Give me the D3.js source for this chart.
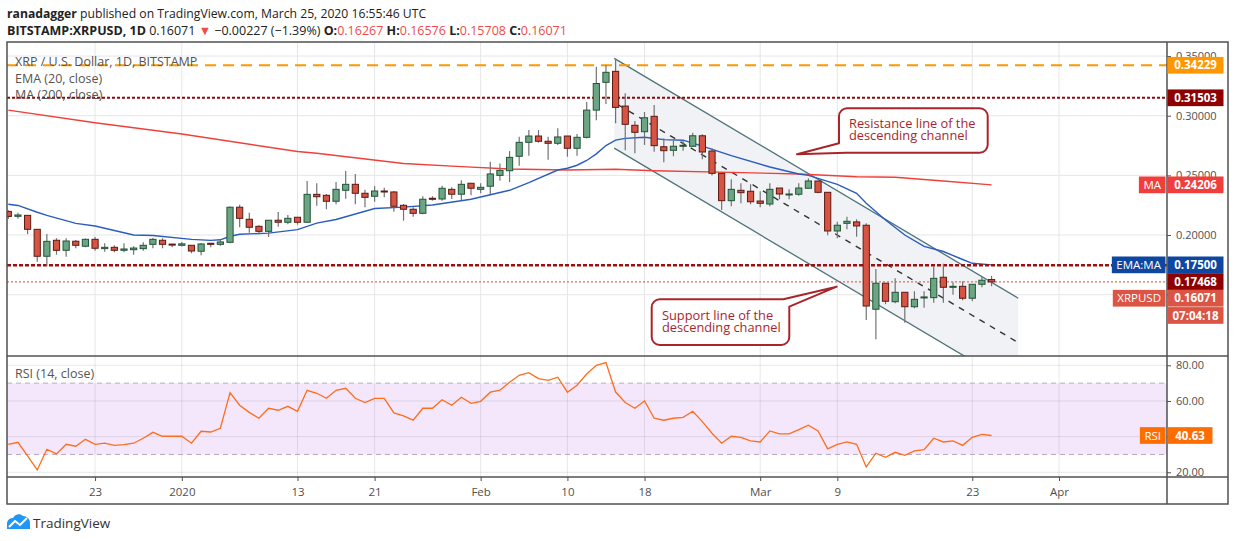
<!DOCTYPE html>
<html><head><meta charset="utf-8">
<script src="https://cdn.jsdelivr.net/npm/d3@7"></script>
<style>
body{margin:0;background:#fff;}
svg{display:block;font-family:"Open Sans",sans-serif;}
</style>
</head><body>
<svg id="chart" width="1234" height="541"></svg>
<script>
// ---------------- DATA ----------------
const firstDay = "2019-12-14";
const opens  = [.2198,.2157,.2165,.2048,.1822,.1956,.1872,.1948,.1906,.1964,.1886,.1897,.1872,.1877,.1886,.1922,.1956,.1924,.1914,.1914,.1864,.1931,.1922,.1939,.2233,.2132,.2073,.2031,.2124,.2107,.2149,.2107,.2341,.2333,.2283,.2375,.2425,.2350,.2325,.2369,.2361,.2249,.2216,.2182,.2308,.2302,.2383,.2342,.2434,.2383,.2409,.2500,.2539,.2660,.2777,.2830,.2786,.2769,.2830,.2727,.2819,.3047,.3280,.3372,.3081,.2920,.2866,.2995,.2740,.2710,.2744,.2744,.2832,.2704,.2517,.2288,.2375,.2367,.2285,.2260,.2394,.2338,.2342,.2392,.2453,.2358,.2034,.2098,.2110,.2082,.1378,.1596,.1441,.1520,.1399,.1475,.1475,.1646,.1562,.1570,.1470,.1587,.16267];
const highs  = [.2207,.2187,.2168,.2050,.2009,.1973,.1973,.1958,.1970,.1984,.1931,.1914,.1931,.1905,.1940,.1975,.1973,.1926,.1942,.1914,.1933,.1931,.1962,.2239,.2254,.2187,.2082,.2124,.2193,.2168,.2149,.2453,.2434,.2344,.2445,.2537,.2512,.2380,.2409,.2396,.2369,.2260,.2233,.2325,.2325,.2413,.2400,.2459,.2434,.2434,.2614,.2600,.2704,.2824,.2880,.2880,.2824,.2894,.2830,.2846,.3116,.3411,.3425,.3473,.3188,.2956,.3031,.3090,.2811,.2794,.2794,.2857,.2844,.2727,.2522,.2467,.2434,.2426,.2367,.2434,.2394,.2383,.2434,.2475,.2453,.2358,.2112,.2154,.2132,.2098,.1715,.1596,.1637,.1520,.1529,.1529,.1735,.1760,.1604,.1613,.1587,.1650,.16576];
const lows   = [.2134,.2137,.2007,.1777,.1740,.1835,.1818,.1889,.1898,.1869,.1860,.1855,.1855,.1835,.1868,.1889,.1889,.1897,.1903,.1847,.1830,.1897,.1911,.1931,.2065,.2020,.2007,.1984,.2070,.2090,.2087,.2107,.2246,.2216,.2258,.2304,.2258,.2233,.2279,.2316,.2195,.2120,.2154,.2174,.2288,.2288,.2302,.2291,.2333,.2350,.2344,.2455,.2444,.2581,.2665,.2774,.2631,.2755,.2657,.2665,.2810,.2963,.3098,.2936,.2711,.2685,.2755,.2698,.2610,.2660,.2707,.2740,.2635,.2500,.2210,.2241,.2266,.2258,.2233,.2241,.2300,.2300,.2330,.2392,.2350,.1999,.1973,.2048,.1986,.1288,.1126,.1420,.1428,.1265,.1386,.1390,.1433,.1433,.1499,.1453,.1445,.1562,.15708];
const closes = [.2156,.2168,.2048,.1822,.1947,.1872,.1950,.1914,.1964,.1889,.1897,.1872,.1883,.1891,.1914,.1964,.1922,.1919,.1926,.1866,.1925,.1922,.1942,.2233,.2140,.2065,.2031,.2124,.2107,.2140,.2107,.2341,.2321,.2283,.2383,.2425,.2350,.2316,.2369,.2361,.2241,.2216,.2182,.2300,.2300,.2392,.2342,.2425,.2392,.2400,.2512,.2542,.2651,.2777,.2830,.2786,.2769,.2822,.2727,.2819,.3047,.3270,.3364,.3070,.2928,.2861,.2983,.2749,.2707,.2744,.2752,.2832,.2696,.2517,.2288,.2383,.2355,.2279,.2266,.2383,.2344,.2344,.2394,.2453,.2358,.2034,.2082,.2115,.2076,.1405,.1596,.1445,.1520,.1399,.1461,.1481,.1637,.1562,.1570,.1470,.1587,.1621,.16071];
const rsiValues = [35.7,36.8,29.2,21.3,32.9,30.3,35.7,34.6,38.5,35.7,36.3,35.1,35.5,36.3,39.1,42.4,40.2,40.2,40.2,36.3,43.0,42.6,44.7,64.7,57.6,53.6,50.3,55.9,54.8,57.0,54.2,66.0,64.3,61.5,66.0,67.1,61.5,59.1,61.5,61.5,53.3,51.6,49.2,55.9,55.9,60.7,57.6,62.1,58.7,59.8,64.9,66.0,70.5,74.4,75.9,72.5,71.6,73.3,64.9,68.8,75.1,80.0,81.5,65.0,59.1,55.9,60.0,50.3,49.2,50.3,50.8,54.2,48.4,41.9,36.3,40.2,39.6,37.6,37.0,43.2,41.5,41.5,43.9,46.4,43.2,33.1,35.7,37.0,35.7,23.0,30.7,28.4,31.2,29.5,32.0,32.7,39.1,37.0,37.6,35.1,39.6,41.3,40.63];
// EMA(20): [day index, value]
const emaIdx = [0,1,3,4,7,9,13,15,19,21,22,23,24,27,30,32,34,38,41,44,48,52,54,57,58,59,60,61,62,63,64,66,68,70,72,75,79,82,83,86,88,89,91,93,95,97,99,100,102];
const emaVal = [.2258,.2248,.2191,.2165,.2098,.2076,.2000,.1996,.1964,.1955,.1960,.1990,.2006,.2016,.2045,.2100,.2130,.2222,.2234,.2252,.2300,.2375,.2440,.2545,.2560,.2585,.2625,.2680,.2750,.2795,.2810,.2819,.2800,.2795,.2745,.2665,.2570,.2512,.2500,.2425,.2350,.2266,.2126,.2000,.1905,.1862,.1795,.1763,.1750];
// MA(200)
const maIdx = [0,9,18,30,32,41,47,52,58,63,67,75,82,88,92,97,102];
const maVal = [.3047,.2941,.2847,.2700,.2685,.2600,.2573,.2553,.2545,.2551,.2539,.2525,.2512,.2489,.2484,.2453,.24206];
// drawn horizontal levels
const levelValues = [0.34229, 0.31503, 0.17468];
// descending channel: [day index, price]
const channelUpper = [[62.86,.3481],[104.77,.1470]];
const channelLower = [[62.86,.2728],[104.77,.0717]];
const channelMid   = [[63.3,.3090],[104.6,.1106]];
const calloutTexts = [["Resistance line of the","descending channel"],["Support line of the","descending channel"]];
const priceTicks = [0.35,0.30,0.25,0.20,0.15];
const priceTickLabels = ["0.35000","0.30000","0.25000","0.20000",""];
const rsiTicks = [80,60,40,20];
const rsiTickLabels = ["80.00","60.00","","20.00"];
const timeTickDates = ["2019-12-23","2020-01-01","2020-01-13","2020-01-21","2020-02-01","2020-02-10","2020-02-18","2020-03-01","2020-03-09","2020-03-23","2020-04-01"];
const timeTickLabels = ["23","2020","13","21","Feb","10","18","Mar","9","23","Apr"];

// ---------------- LAYOUT ----------------
const L=7, R=1167, OR=1228, mainTop=42, mainBot=356, rsiBot=477, axBot=504;
const DAY=864e5;
const t0 = new Date(firstDay+"T00:00:00Z").getTime();
const dateOf = i => new Date(t0 + i*DAY);
const svg = d3.select("#chart");

const x = d3.scaleUtc().domain([dateOf(-0.135), dateOf(120.2)]).range([L,R]);
const y = d3.scaleLinear().domain([0.0986,0.3618]).range([mainBot,mainTop]);
const yr = d3.scaleLinear().domain([17.36,85.21]).range([rsiBot,mainBot]);

const defs = svg.append("defs");
defs.append("clipPath").attr("id","cm").append("rect").attr("x",L).attr("y",mainTop).attr("width",R-L).attr("height",mainBot-mainTop);
defs.append("clipPath").attr("id","cr").append("rect").attr("x",L).attr("y",mainBot).attr("width",R-L).attr("height",rsiBot-mainBot);

const gridC="#e6e6e6";
// ---- main panel ----
const gm = svg.append("g").attr("clip-path","url(#cm)");
const tickDates = timeTickDates.map(s=>new Date(s+"T00:00:00Z"));
gm.selectAll(".vg").data(tickDates).join("line").attr("x1",d=>x(d)).attr("x2",d=>x(d)).attr("y1",mainTop).attr("y2",mainBot).attr("stroke",gridC);
gm.selectAll(".hg").data(priceTicks).join("line").attr("x1",L).attr("x2",R).attr("y1",d=>y(d)).attr("y2",d=>y(d)).attr("stroke",gridC);

// channel
const cpt = p => [x(dateOf(p[0])), y(p[1])];
const poly = [cpt(channelUpper[0]),cpt(channelUpper[1]),cpt(channelLower[1]),cpt(channelLower[0])];
gm.append("path").attr("d","M"+poly.map(p=>p.join(",")).join("L")+"Z").attr("fill","#f0f2f5");
[channelUpper,channelLower].forEach(c=>{
  gm.append("line").attr("x1",cpt(c[0])[0]).attr("y1",cpt(c[0])[1]).attr("x2",cpt(c[1])[0]).attr("y2",cpt(c[1])[1]).attr("stroke","#4d7478").attr("stroke-width",1.3);
});
gm.append("line").attr("x1",cpt(channelMid[0])[0]).attr("y1",cpt(channelMid[0])[1]).attr("x2",cpt(channelMid[1])[0]).attr("y2",cpt(channelMid[1])[1]).attr("stroke","#333").attr("stroke-width",1.4).attr("stroke-dasharray","6,6");

// MA and EMA
const lineGen = d3.line().x(d=>x(dateOf(d[0]))).y(d=>y(d[1]));
gm.append("path").attr("d",lineGen(maIdx.map((d,i)=>[d,maVal[i]]))).attr("fill","none").attr("stroke","#f0403a").attr("stroke-width",1.4);
gm.append("path").attr("d",lineGen(emaIdx.map((d,i)=>[d,emaVal[i]]))).attr("fill","none").attr("stroke","#2a5cc0").attr("stroke-width",1.4);

// horizontal levels
const lvlStyle = [{c:"#ff9800",w:2,da:"11,7"},{c:"#8e0a0a",w:2,da:"3,2"},{c:"#a00f0f",w:2.5,da:"4,2"}];
levelValues.forEach((v,i)=>{
  gm.append("line").attr("x1",L).attr("x2",R).attr("y1",y(v)).attr("y2",y(v)).attr("stroke",lvlStyle[i].c).attr("stroke-width",lvlStyle[i].w).attr("stroke-dasharray",lvlStyle[i].da);
});
const lastClose = closes[closes.length-1];
gm.append("line").attr("x1",L).attr("x2",R).attr("y1",y(lastClose)).attr("y2",y(lastClose)).attr("stroke","#e0453a").attr("stroke-width",1).attr("stroke-dasharray","2,2");

// candles
const idx = d3.range(opens.length);
const bw = 6.2;
gm.selectAll(".wick").data(idx).join("line")
  .attr("x1",i=>x(dateOf(i))).attr("x2",i=>x(dateOf(i)))
  .attr("y1",i=>y(highs[i])).attr("y2",i=>y(lows[i]))
  .attr("stroke","#737375").attr("stroke-width",1.2);
gm.selectAll(".body").data(idx).join("rect")
  .attr("x",i=>x(dateOf(i))-bw/2)
  .attr("y",i=>y(Math.max(opens[i],closes[i])))
  .attr("width",bw)
  .attr("height",i=>Math.max(1,Math.abs(y(opens[i])-y(closes[i]))))
  .attr("fill",i=>closes[i]>=opens[i]?"#6ba583":"#d75442")
  .attr("stroke",i=>closes[i]>=opens[i]?"#225437":"#5b1a13")
  .attr("stroke-width",1);

// callouts
const tc="#a8262b";
{
  const x0=839,y0=108.3,x1=987.7,y1=152.7,r=8;
  const tip=[797,154.3];
  const d=`M${x0+r},${y0}H${x1-r}A${r},${r} 0 0 1 ${x1},${y0+r}V${y1-r}A${r},${r} 0 0 1 ${x1-r},${y1}H${846}L${tip[0]},${tip[1]}L${x0},${143.3}V${y0+r}A${r},${r} 0 0 1 ${x0+r},${y0}Z`;
  svg.append("path").attr("d",d).attr("fill","#fff").attr("stroke",tc).attr("stroke-width",2).attr("stroke-linejoin","round");
  calloutTexts[0].forEach((t,k)=>svg.append("text").attr("x",849).attr("y",128.3+k*12).attr("font-size",12.8).attr("fill",tc).text(t));
}
{
  const x0=651.7,y0=299.3,x1=789.3,y1=345,r=8;
  const tip=[836.7,286.7];
  const d=`M${x0+r},${y0}H${783.3}L${tip[0]},${tip[1]}L${x1},${306.7}V${y1-r}A${r},${r} 0 0 1 ${x1-r},${y1}H${x0+r}A${r},${r} 0 0 1 ${x0},${y1-r}V${y0+r}A${r},${r} 0 0 1 ${x0+r},${y0}Z`;
  svg.append("path").attr("d",d).attr("fill","#fff").attr("stroke",tc).attr("stroke-width",2).attr("stroke-linejoin","round");
  calloutTexts[1].forEach((t,k)=>svg.append("text").attr("x",662).attr("y",320.3+k*12).attr("font-size",12.8).attr("fill",tc).text(t));
}

// legend texts
const lg = svg.append("g").attr("font-size",12.5).attr("fill","#555");
lg.append("text").attr("x",15).attr("y",65.5).text("XRP / U.S. Dollar, 1D, BITSTAMP");
lg.append("text").attr("x",15).attr("y",83).text("EMA (20, close)");
lg.append("text").attr("x",15).attr("y",99).text("MA (200, close)");

// ---- RSI panel ----
const gr = svg.append("g").attr("clip-path","url(#cr)");
gr.append("rect").attr("x",L).attr("width",R-L).attr("y",yr(70)).attr("height",yr(30)-yr(70)).attr("fill","#f4e7fc");
gr.selectAll(".vg").data(tickDates).join("line").attr("x1",d=>x(d)).attr("x2",d=>x(d)).attr("y1",mainBot).attr("y2",rsiBot).attr("stroke","#000").attr("stroke-opacity",0.09);
gr.selectAll(".hg").data(rsiTicks).join("line").attr("x1",L).attr("x2",R).attr("y1",d=>yr(d)).attr("y2",d=>yr(d)).attr("stroke","#000").attr("stroke-opacity",0.09);
[70,30].forEach(v=>gr.append("line").attr("x1",L).attr("x2",R).attr("y1",yr(v)).attr("y2",yr(v)).attr("stroke","#b7a9c3").attr("stroke-dasharray","5,4"));
gr.append("path").attr("d",d3.line().x((d,i)=>x(dateOf(i))).y(d=>yr(d))(rsiValues)).attr("fill","none").attr("stroke","#ff6d1a").attr("stroke-width",1.3);
svg.append("text").attr("x",15).attr("y",377.5).attr("font-size",12.5).attr("fill","#555").text("RSI (14, close)");

// ---- frames ----
const fc="#505050";
const fr = svg.append("g").attr("stroke",fc).attr("stroke-width",1.5).attr("fill","none");
fr.append("rect").attr("x",L).attr("y",mainTop).attr("width",OR-L).attr("height",axBot-mainTop);
fr.append("line").attr("x1",R).attr("x2",R).attr("y1",mainTop).attr("y2",axBot);
fr.append("line").attr("x1",L).attr("x2",OR).attr("y1",mainBot).attr("y2",mainBot);
fr.append("line").attr("x1",L).attr("x2",OR).attr("y1",rsiBot).attr("y2",rsiBot);

// ---- axes ----
const axC="#4f4f4f";
const timeAxis = d3.axisBottom(x).tickValues(tickDates).tickFormat((d,i)=>timeTickLabels[i]).tickSize(4).tickPadding(7);
const ta = svg.append("g").attr("transform",`translate(0,${rsiBot})`).call(timeAxis);
ta.select(".domain").remove();
ta.selectAll("line").attr("stroke",axC);
ta.selectAll("text").attr("fill",axC).attr("font-size",11.5).attr("font-family","Open Sans");

const pAxis = d3.axisRight(y).tickValues(priceTicks).tickFormat((d,i)=>priceTickLabels[i]).tickSize(4).tickPadding(5);
const pa = svg.append("g").attr("transform",`translate(${R},0)`).call(pAxis);
pa.select(".domain").remove();
pa.selectAll("line").attr("stroke",axC);
pa.selectAll("text").attr("fill",axC).attr("font-size",11).attr("font-family","Open Sans");

const rAxis = d3.axisRight(yr).tickValues(rsiTicks).tickFormat((d,i)=>rsiTickLabels[i]).tickSize(4).tickPadding(5);
const ra = svg.append("g").attr("transform",`translate(${R},0)`).call(rAxis);
ra.select(".domain").remove();
ra.selectAll("line").attr("stroke",axC);
ra.selectAll("text").attr("fill",axC).attr("font-size",11).attr("font-family","Open Sans");

// ---- price labels on axis ----
const fmt = d3.format(".5f");
const labels = [
  {v:levelValues[0], bg:"#ff9800"},
  {v:levelValues[1], bg:"#8e0000"},
  {v:maVal[maVal.length-1], bg:"#f23d3d", tag:"MA"},
  {v:emaVal[emaVal.length-1], bg:"#0d47a1", tag:"EMA:MA"},
  {v:levelValues[2], bg:"#8e0000"},
  {v:lastClose, bg:"#dc5443", tag:"XRPUSD", cd:"07:04:18"}
];
labels.forEach(l=>l.py=y(l.v));
labels.sort((a,b)=>a.py-b.py);
let prev=-1e9;
const LH=16.7;
labels.forEach(l=>{ l.py=Math.max(l.py,prev+LH); prev=l.py; if(l.cd) prev+=LH; });
const lb = svg.append("g");
labels.forEach(l=>{
  lb.append("rect").attr("x",R+0.5).attr("y",l.py-LH/2).attr("width",56).attr("height",LH).attr("fill",l.bg);
  lb.append("text").attr("x",R+28.5).attr("y",l.py+4.2).attr("text-anchor","middle").attr("font-size",11.5).attr("font-weight","bold").attr("fill","#fff").text(fmt(l.v));
  if(l.tag){
    const t = lb.append("text").attr("x",R-6).attr("y",l.py+4.2).attr("text-anchor","end").attr("font-size",11.5).attr("fill","#fff").text(l.tag);
    const w = t.node().getComputedTextLength();
    lb.insert("rect","text:last-child").attr("x",R-1.5-w-9).attr("y",l.py-LH/2).attr("width",w+9).attr("height",LH).attr("fill",l.bg);
    t.raise();
  }
  if(l.cd){
    lb.append("rect").attr("x",R+0.5).attr("y",l.py+LH/2+0.5).attr("width",56).attr("height",LH).attr("fill",l.bg);
    lb.append("text").attr("x",R+28.5).attr("y",l.py+LH+4.7).attr("text-anchor","middle").attr("font-size",11.5).attr("font-weight","bold").attr("fill","#fff").text(l.cd);
  }
});
// RSI label
{
  const v = rsiValues[rsiValues.length-1], py=yr(v);
  lb.append("rect").attr("x",R+0.5).attr("y",py-LH/2).attr("width",45).attr("height",LH).attr("fill","#ff6d00");
  lb.append("text").attr("x",R+23).attr("y",py+4.2).attr("text-anchor","middle").attr("font-size",11.5).attr("font-weight","bold").attr("fill","#fff").text(d3.format(".2f")(v));
  const t = lb.append("text").attr("x",R-6).attr("y",py+4.2).attr("text-anchor","end").attr("font-size",11.5).attr("fill","#fff").text("RSI");
  const w = t.node().getComputedTextLength();
  lb.insert("rect","text:last-child").attr("x",R-1.5-w-9).attr("y",py-LH/2).attr("width",w+9).attr("height",LH).attr("fill","#ff6d00");
  t.raise();
}

// ---- header ----
const red="#ef4b4b";
const h1 = svg.append("text").attr("x",7).attr("y",17.5).attr("font-size",12.2).attr("fill","#222");
h1.append("tspan").attr("font-weight","bold").text("ranadagger");
h1.append("tspan").text(" published on TradingView.com, March 25, 2020 16:55:46 UTC");
const h2 = svg.append("text").attr("x",7).attr("y",35).attr("font-size",12.5).attr("fill","#222");
[["BITSTAMP:XRPUSD, 1D","b"],[" 0.16071 ",""],["▼","r"],[" −0.00227 (−1.39%) ",""],["O:","b"],["0.16267","r"],[" H:","b"],["0.16576","r"],[" L:","b"],["0.15708","r"],[" C:","b"],["0.16071","r"]].forEach(([t,s])=>{
  const ts=h2.append("tspan").text(t);
  if(s==="b") ts.attr("font-weight","bold");
  if(s==="r") ts.attr("fill",red);
});

// ---- TradingView logo ----
const logo = svg.append("g");
logo.append("path").attr("d","M7,529 L7,524 C7,520 10,518 13,518 C15,514 20,513 23,516 C27,516 30,519 30,523 L30,529 Z").attr("fill","#2196f3");
logo.append("path").attr("d","M9,527 L15,521 L20,525 L27,518").attr("fill","none").attr("stroke","#fff").attr("stroke-width",2);
logo.append("text").attr("x",33).attr("y",527.5).attr("font-size",13.5).attr("fill","#333").text("TradingView");
</script>
</body></html>
